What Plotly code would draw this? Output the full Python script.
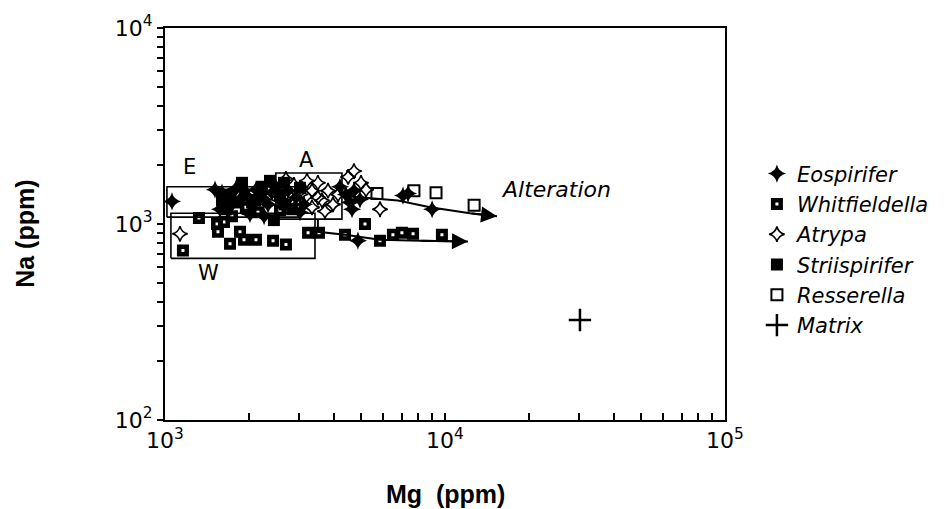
import math
import plotly.graph_objects as go

# Mg and Na concentrations (ppm) by brachiopod genus
eosp_mg = [1059, 1598, 1679, 1793, 1977, 2113, 2259, 2411, 2575, 2748, 2936, 3135,
           4217, 4426, 4578, 4731, 4656, 4970, 7079, 7379, 8995, 4886,
           1509, 1853, 2184, 2333, 2489, 1915, 1734, 1572, 2012, 2259, 3035]
eosp_na = [1303, 1445, 1318, 1514, 1380, 1496, 1334, 1445, 1318, 1479, 1365, 1259,
           1549, 1413, 1288, 1479, 1189, 1334, 1396, 1429, 1189, 822,
           1496, 1334, 1413, 1259, 1549, 1479, 1259, 1189, 1122, 1096, 1148]

whit_mg = [1159, 1322, 1546, 1624, 1707, 1853, 1915, 2113, 2432, 2704, 3243, 3548,
           4394, 5179, 5859, 6516, 7015, 7691, 9750, 1734, 1945, 1534, 2148, 2575]
whit_na = [733, 1072, 912, 1023, 794, 912, 832, 832, 822, 785, 902, 902,
           881, 1000, 822, 881, 902, 891, 881, 1096, 1216, 1000, 1148, 1175]

atry_mg = [1131, 2704, 2889, 3035, 3214, 3350, 3516, 3638, 3821, 3981, 3350, 2985,
           2795, 3727, 4150, 4508, 4731, 5012, 5224, 5859, 3190, 3516]
atry_na = [891, 1698, 1585, 1413, 1660, 1479, 1622, 1318, 1479, 1259, 1216, 1259,
           1380, 1161, 1413, 1738, 1862, 1622, 1496, 1189, 1380, 1365]

stri_mg = [1884, 1707, 2046, 2218, 2449, 2844, 1652, 3035, 2661,
           1778, 2096, 2575, 2683, 1598, 2371]
stri_na = [1622, 1413, 1288, 1549, 1047, 1189, 1189, 1531, 1622,
           1288, 1318, 1413, 1259, 1318, 1660]

ress_mg = [5715, 7745, 9290, 12706]
ress_na = [1429, 1479, 1445, 1245]

matrix_mg = [30340]
matrix_na = [324]

# Field boxes (Mg min, Mg max, Na min, Na max)
box_E = (1016, 3035, 1084, 1549)
box_W = (1050, 3433, 668, 1135)
box_A = (2489, 4285, 1059, 1820)

# Alteration trend paths
trend_upper_mg = [4578, 6792, 8839, 12283, 15342]
trend_upper_na = [1380, 1318, 1216, 1135, 1096]
trend_lower_mg = [3516, 3516, 4394, 5859, 8141, 12078]
trend_lower_na = [1059, 912, 881, 832, 822, 813]

FONT = "DejaVu Sans"

fig = go.Figure()

# field boxes
for (x0, x1, y0, y1) in (box_E, box_W, box_A):
    fig.add_trace(go.Scatter(
        x=[x0, x1, x1, x0, x0], y=[y0, y0, y1, y1, y0], mode="lines",
        line=dict(color="black", width=1.6), showlegend=False, hoverinfo="skip"))

# alteration trend lines
for xs, ys in ((trend_upper_mg, trend_upper_na), (trend_lower_mg, trend_lower_na)):
    fig.add_trace(go.Scatter(x=xs, y=ys, mode="lines",
                             line=dict(color="black", width=2),
                             showlegend=False, hoverinfo="skip"))

series = [
    ("Eospirifer", eosp_mg, eosp_na, dict(symbol="star-diamond", size=13, color="black",
                                          line=dict(width=0))),
    ("Whitfieldella", whit_mg, whit_na, dict(symbol="square-open", size=7.5, color="black",
                                             line=dict(width=4.5, color="black"))),
    ("Atrypa", atry_mg, atry_na, dict(symbol="star-diamond-open", size=11, color="black",
                                      line=dict(width=1.6, color="black"))),
    ("Striispirifer", stri_mg, stri_na, dict(symbol="square", size=12, color="black",
                                             line=dict(width=0))),
    ("Resserella", ress_mg, ress_na, dict(symbol="square-open", size=11, color="black",
                                          line=dict(width=2, color="black"))),
    ("Matrix", matrix_mg, matrix_na, dict(symbol="cross-thin-open", size=16, color="black",
                                          line=dict(width=2.5, color="black"))),
]
for name, xs, ys, mk in series:
    fig.add_trace(go.Scatter(x=xs, y=ys, mode="markers", name=name, marker=mk))

annotations = []
# arrowheads at the end of each trend
for xs, ys in ((trend_upper_mg, trend_upper_na), (trend_lower_mg, trend_lower_na)):
    annotations.append(dict(
        x=math.log10(xs[-1]), y=math.log10(ys[-1]),
        ax=math.log10(xs[-2]), ay=math.log10(ys[-2]),
        xref="x", yref="y", axref="x", ayref="y", text="",
        showarrow=True, arrowhead=2, arrowsize=1.6, arrowwidth=2, arrowcolor="black"))

# field labels
for txt, mx, na in (("E", 1228, 1960), ("A", 3214, 2130), ("W", 1425, 560)):
    annotations.append(dict(x=math.log10(mx), y=math.log10(na), xref="x", yref="y",
                            text=txt, showarrow=False,
                            font=dict(family=FONT, size=21, color="black")))

annotations.append(dict(x=math.log10(24900), y=math.log10(1496), xref="x", yref="y",
                        text="Alteration", showarrow=False,
                        font=dict(family=FONT, size=22, color="black", style="italic")))

# axis titles
annotations.append(dict(x=0.5, y=-0.1875, xref="paper", yref="paper",
                        xanchor="center", yanchor="middle",
                        text="Mg\u00a0\u00a0(ppm)", showarrow=False,
                        font=dict(family="Liberation Sans", size=25, color="black",
                                  weight="bold")))
annotations.append(dict(x=-0.25, y=0.475, xref="paper", yref="paper",
                        xanchor="center", yanchor="middle",
                        text="Na (ppm)", showarrow=False, textangle=-90,
                        font=dict(family="Liberation Sans", size=25, color="black",
                                  weight="bold")))

# ticks at every 1..9 x 10^k, labelled only at the decades
def log_ticks(lo, hi):
    vals, texts = [], []
    for k in range(lo, hi):
        for m in range(1, 10):
            vals.append(m * 10 ** k)
            texts.append(f"10<sup>{k}</sup>" if m == 1 else "")
    vals.append(10 ** hi)
    texts.append(f"10<sup>{hi}</sup>")
    return vals, texts

x_vals, x_text = log_ticks(3, 5)
y_vals, y_text = log_ticks(2, 4)

fig.update_layout(
    width=948, height=509,
    margin=dict(l=165, r=223, t=20, b=89),
    paper_bgcolor="white", plot_bgcolor="white",
    font=dict(family=FONT, color="black"),
    xaxis=dict(type="log", range=[3, 5], showgrid=False, zeroline=False,
               showline=True, linewidth=2, linecolor="black", mirror=True,
               ticks="inside", ticklen=7, tickwidth=2, tickcolor="black",
               tickmode="array", tickvals=x_vals, ticktext=x_text,
               tickfont=dict(family=FONT, size=22, color="black")),
    yaxis=dict(type="log", range=[2, 4], showgrid=False, zeroline=False,
               showline=True, linewidth=2, linecolor="black", mirror=True,
               ticks="outside", ticklen=6, tickwidth=2, tickcolor="black",
               tickmode="array", tickvals=y_vals, ticktext=y_text,
               tickfont=dict(family=FONT, size=22, color="black")),
    legend=dict(x=1.057, y=0.68, xanchor="left", yanchor="top",
                font=dict(family=FONT, size=21, color="black", style="italic"),
                bgcolor="rgba(0,0,0,0)", borderwidth=0),
    annotations=annotations,
    showlegend=True,
)

fig.write_html("out.html")
